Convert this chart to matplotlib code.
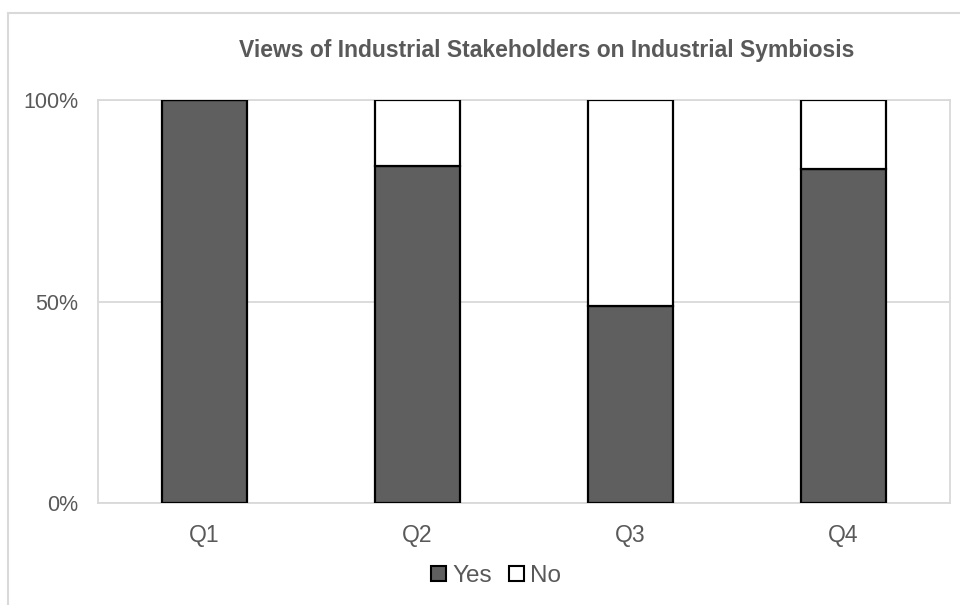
import matplotlib
matplotlib.use("Agg")
import matplotlib.pyplot as plt
from matplotlib.patches import Rectangle, Patch
import numpy as np

categories = ["Q1", "Q2", "Q3", "Q4"]
yes_vals = [1.00, 0.837, 0.49, 0.828]
no_vals = [1 - v for v in yes_vals]
series_names = ["Yes", "No"]
yticks = [0, 0.5, 1.0]
ytick_labels = ["0%", "50%", "100%"]

plt.rcParams['font.family'] = ['Liberation Sans', 'DejaVu Sans']
text_color = "#595959"
grid_color = "#d9d9d9"

fig = plt.figure(figsize=(9.6, 6.05), dpi=100)
W, H = 960, 605
# outer chart border (runs off the right and bottom edges)
fig.patches.append(Rectangle((8 / W, -0.1), 1.2, 1.1 - 13 / H, transform=fig.transFigure,
                             fill=False, edgecolor=grid_color, linewidth=1.5))

ax = fig.add_axes([98 / W, 1 - 503 / H, (950 - 98) / W, (503 - 100) / H])
x = np.arange(len(categories))
ax.bar(x, yes_vals, width=0.40, color="#5f5f5f", edgecolor="black", linewidth=1.6,
       label=series_names[0], zorder=3)
ax.bar(x, no_vals, bottom=yes_vals, width=0.40, color="white", edgecolor="black",
       linewidth=1.6, label=series_names[1], zorder=3)

ax.set_xlim(-0.5, len(categories) - 0.5)
ax.set_ylim(0, 1)
ax.set_yticks(yticks)
ax.set_yticklabels(ytick_labels)
ax.set_xticks(x)
ax.set_xticklabels(categories)
ax.tick_params(axis='both', length=0, colors=text_color)
ax.tick_params(axis='y', pad=14, labelsize=15.5)
ax.tick_params(axis='x', pad=15, labelsize=16.5)
ax.yaxis.grid(True, color=grid_color, linewidth=1.3, zorder=0)
for s in ax.spines.values():
    s.set_color(grid_color)
    s.set_linewidth(1.3)

fig.text(547 / W, 1 - 50 / H, "Views of Industrial Stakeholders on Industrial Symbiosis",
         ha="center", va="center", fontsize=16.5, fontweight="bold", color=text_color)

handles = [Patch(facecolor="#5f5f5f", edgecolor="black", linewidth=1.5),
           Patch(facecolor="white", edgecolor="black", linewidth=1.5)]
fig.legend(handles, series_names, loc="center", bbox_to_anchor=(496 / W, 1 - 576 / H),
           ncol=2, frameon=False, fontsize=17.5, handlelength=0.62, handleheight=0.62,
           handletextpad=0.25, columnspacing=0.7, labelcolor=text_color,
           borderpad=0, borderaxespad=0)

fig.savefig("out.png", dpi=100)
